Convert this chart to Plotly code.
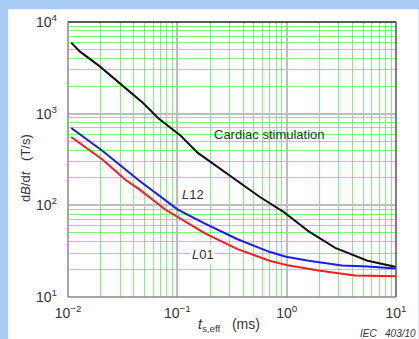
import math
import plotly.graph_objects as go

# ---- data ----
cardiac_x = [0.0107, 0.0128, 0.0194, 0.0339, 0.0492, 0.067, 0.108, 0.153, 0.351, 0.565, 0.927, 1.59, 2.78, 5.49, 9.6, 10]
cardiac_y = [5960, 4780, 3300, 1870, 1290, 890, 571, 376, 188, 124, 85.5, 52, 34.3, 24.9, 21.5, 21]

l12_x = [0.0107, 0.0206, 0.0443, 0.067, 0.101, 0.177, 0.351, 0.694, 0.986, 1.59, 3.2, 5.5, 10]
l12_y = [697, 394, 188, 130, 90, 63.7, 42.9, 31.1, 27.5, 24.9, 22, 21.5, 20.5]

l01_x = [0.0107, 0.0206, 0.0339, 0.0443, 0.0774, 0.125, 0.177, 0.351, 0.694, 1.05, 1.95, 4.2, 10]
l01_y = [557, 316, 188, 151, 90, 63.7, 49.7, 33.5, 24.9, 22, 19.5, 17.2, 16.8]

x_decades = [-2, -1, 0, 1]
y_decades = [1, 2, 3, 4]
x_ticktext = ["10<sup>\u22122</sup>", "10<sup>\u22121</sup>", "10<sup>0</sup>", "10<sup>1</sup>"]
y_ticktext = ["10<sup>1</sup>", "10<sup>2</sup>", "10<sup>3</sup>", "10<sup>4</sup>"]

xr = [-2, 1]
yr = [1, 4]

def minor_vals(decs):
    out = []
    for e in decs[:-1]:
        for k in range(2, 10):
            out.append(k * 10 ** e)
    return out

def xp(v):
    return (math.log10(v) - xr[0]) / (xr[1] - xr[0])

def yp(v):
    return (math.log10(v) - yr[0]) / (yr[1] - yr[0])

GREEN = "rgba(40,235,40,0.6)"
TXT = "#333333"
FONT = "Liberation Sans, Arial, sans-serif"

fig = go.Figure()
fig.add_trace(go.Scatter(x=cardiac_x, y=cardiac_y, mode="lines", line=dict(color="#111111", width=2)))
fig.add_trace(go.Scatter(x=l12_x, y=l12_y, mode="lines", line=dict(color="#1a1aff", width=2)))
fig.add_trace(go.Scatter(x=l01_x, y=l01_y, mode="lines", line=dict(color="#ff1a1a", width=2)))

fig.update_xaxes(
    type="log", range=xr,
    tickmode="array", tickvals=[10 ** e for e in x_decades], ticktext=x_ticktext,
    showgrid=True, gridcolor="#bdbdbd", gridwidth=1.5,
    minor=dict(tickmode="array", tickvals=minor_vals(x_decades), showgrid=True, gridcolor=GREEN, gridwidth=1.2, ticks=""),
    ticks="", ticklabelstandoff=6, zeroline=False, showline=False,
    tickfont=dict(size=14, color=TXT, family=FONT),
)
fig.update_yaxes(
    type="log", range=yr,
    tickmode="array", tickvals=[10 ** e for e in y_decades], ticktext=y_ticktext,
    showgrid=True, gridcolor="#bdbdbd", gridwidth=1.5,
    minor=dict(tickmode="array", tickvals=minor_vals(y_decades), showgrid=True, gridcolor=GREEN, gridwidth=1.2, ticks=""),
    ticks="", ticklabelstandoff=10, zeroline=False, showline=False,
    tickfont=dict(size=14, color=TXT, family=FONT),
)

# pixel -> paper helpers for the plot area (l=68, r=402, t=17, b=297)
L, R, T, B = 68, 402, 17, 297
def px(xpix):
    return (xpix - L) / (R - L)
def py(ypix):
    return (B - ypix) / (B - T)

shapes = [
    # white card on the blue backdrop
    dict(type="rect", xref="paper", yref="paper", x0=px(7), x1=px(425), y0=py(4), y1=py(345),
         fillcolor="white", line=dict(width=0), layer="below"),
    # darker decade lines
    dict(type="line", xref="paper", yref="paper", x0=xp(0.1), x1=xp(0.1), y0=0, y1=1,
         line=dict(color="#555555", width=1.5), layer="between"),
    dict(type="line", xref="paper", yref="paper", x0=0, x1=1, y0=yp(1000), y1=yp(1000),
         line=dict(color="#666666", width=1.5), layer="between"),
    # white box behind label
    dict(type="rect", xref="paper", yref="paper", x0=px(213), x1=px(380), y0=py(148), y1=py(115),
         fillcolor="white", line=dict(width=0), layer="between"),
    # frame
    dict(type="line", xref="paper", yref="paper", x0=0, x1=1, y0=1, y1=1, line=dict(color="#222222", width=1.5), layer="above"),
    dict(type="line", xref="paper", yref="paper", x0=1, x1=1, y0=0, y1=1, line=dict(color="#555555", width=1.5), layer="above"),
    dict(type="line", xref="paper", yref="paper", x0=0, x1=0, y0=0, y1=1, line=dict(color="#888888", width=1.5), layer="above"),
    dict(type="line", xref="paper", yref="paper", x0=0, x1=1, y0=0, y1=0, line=dict(color="#888888", width=1.5), layer="above"),
]

annotations = [
    dict(text="Cardiac stimulation", xref="paper", yref="paper", x=px(215), y=py(132),
         xanchor="left", yanchor="middle", showarrow=False, font=dict(size=13, color=TXT, family=FONT)),
    dict(text="<i>L</i>12", xref="paper", yref="paper", x=px(195), y=py(193),
         xanchor="center", yanchor="middle", showarrow=False, font=dict(size=13, color=TXT, family=FONT)),
    dict(text="<i>L</i>01", xref="paper", yref="paper", x=px(205), y=py(254),
         xanchor="center", yanchor="middle", showarrow=False, bgcolor="white",
         font=dict(size=13, color=TXT, family=FONT)),
    dict(text="<i>t</i><sub>s,eff</sub>   (ms)", xref="paper", yref="paper", x=px(232), y=py(326),
         xanchor="center", yanchor="middle", showarrow=False, font=dict(size=14, color=TXT, family=FONT)),
    dict(text="d<i>B</i>/d<i>t</i>   (T/s)", xref="paper", yref="paper", x=px(25), y=py(166),
         xanchor="center", yanchor="middle", textangle=-90, showarrow=False, font=dict(size=13, color=TXT, family=FONT)),
    dict(text="<i>IEC   403/10</i>", xref="paper", yref="paper", x=px(363), y=py(334),
         xanchor="left", yanchor="middle", showarrow=False, font=dict(size=10, color=TXT, family=FONT)),
]

fig.update_layout(
    width=419, height=339,
    margin=dict(l=L, r=419 - R, t=T, b=339 - B),
    paper_bgcolor="#a9cdf7", plot_bgcolor="white",
    showlegend=False,
    shapes=shapes, annotations=annotations,
)

fig.write_html(
    "out.html",
    config={"displayModeBar": False},
    post_script="document.body.style.margin='0';document.body.style.overflow='hidden';",
)
